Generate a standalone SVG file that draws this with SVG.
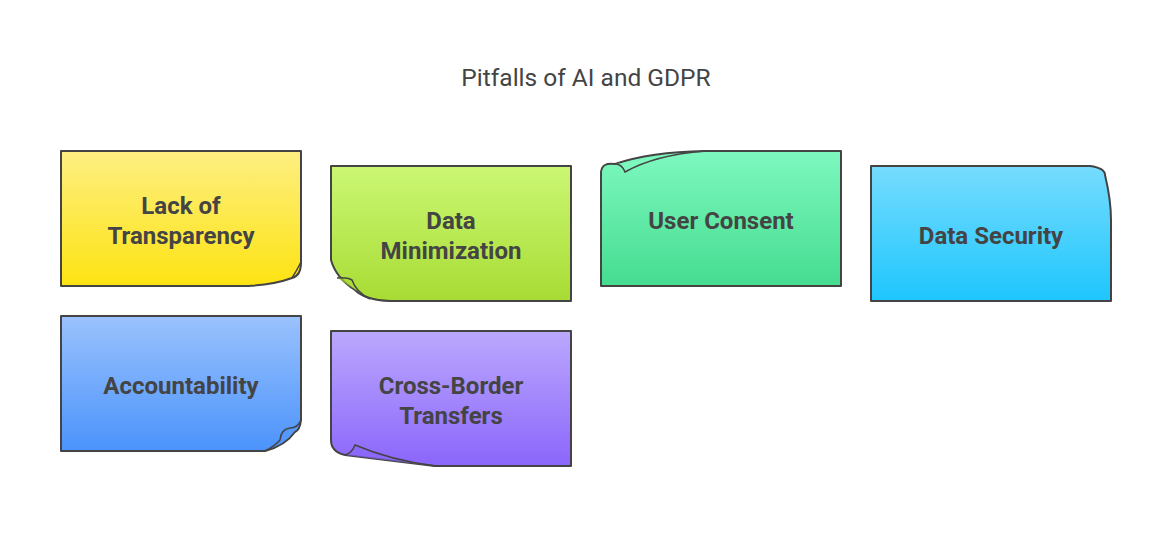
<svg xmlns="http://www.w3.org/2000/svg" width="1173" height="558" viewBox="0 0 1173 558">
<style>
.c{stroke:#444;stroke-width:2;stroke-linejoin:round}
.f{stroke:#444;stroke-width:1.5;fill-opacity:0.6}
.t{font-family:Roboto,"Liberation Sans",sans-serif;font-weight:bold;font-size:24px;fill:#444;text-anchor:middle}
.h{font-family:Roboto,"Liberation Sans",sans-serif;font-size:24.5px;fill:#444;text-anchor:middle}
</style>
<defs>
<linearGradient id="g1" x1="0" y1="0" x2="0" y2="1"><stop offset="0" stop-color="#fdef82"/><stop offset="1" stop-color="#fde312"/></linearGradient>
<linearGradient id="g2" x1="0" y1="0" x2="0" y2="1"><stop offset="0" stop-color="#cbf774"/><stop offset="1" stop-color="#a8dc34"/></linearGradient>
<linearGradient id="g3" x1="0" y1="0" x2="0" y2="1"><stop offset="0" stop-color="#7ef8bf"/><stop offset="1" stop-color="#45dc90"/></linearGradient>
<linearGradient id="g4" x1="0" y1="0" x2="0" y2="1"><stop offset="0" stop-color="#76dcfd"/><stop offset="1" stop-color="#1ec6fd"/></linearGradient>
<linearGradient id="g5" x1="0" y1="0" x2="0" y2="1"><stop offset="0" stop-color="#9ac2fd"/><stop offset="1" stop-color="#4b93fb"/></linearGradient>
<linearGradient id="g6" x1="0" y1="0" x2="0" y2="1"><stop offset="0" stop-color="#bba8fd"/><stop offset="1" stop-color="#8b66fb"/></linearGradient>
</defs>
<text class="h" x="586" y="86">Pitfalls of AI and GDPR</text>
<g id="connectors"/>
<g id="n1">
<path class="c" fill="url(#g1)" d="M61,151 H301 V262 Q301,276 292,278 Q270,286 240,286 H61 Z"/>
<path class="f" fill="#fde312" d="M292,278 Q297,270 301,262"/>
<text class="t" x="181" y="214">Lack of</text><text class="t" x="181" y="244">Transparency</text>
</g>
<g id="n2">
<path class="c" fill="url(#g2)" d="M331,166 H571 V301 H390 Q365,300 355,290 Q336,278 331,260 Z"/>
<path class="f" fill="#a8dc34" d="M337,278 Q347,277 352,280 Q356,292 370,299"/>
<text class="t" x="451" y="229">Data</text><text class="t" x="451" y="259">Minimization</text>
</g>
<g id="n3">
<path class="c" fill="url(#g3)" d="M601,286 V172 Q602,162 615,164 Q650,152 705,151 H841 V286 Z"/>
<path class="f" fill="#7ef8bf" d="M615,164 Q622,164 625,172 Q655,155 705,151"/>
<text class="t" x="721" y="229">User Consent</text>
</g>
<g id="n4">
<path class="c" fill="url(#g4)" d="M871,166 H1090 Q1105,168 1105,175 Q1111,200 1111,220 V301 H871 Z"/>
<text class="t" x="991" y="244">Data Security</text>
</g>
<g id="n5">
<path class="c" fill="url(#g5)" d="M61,316 H301 V420 Q300,430 295,432 Q285,446 265,451 H61 Z"/>
<path class="f" fill="#4b93fb" d="M301,420 Q298,428 290,428 Q281,429 280,440 Q275,446 265,451"/>
<text class="t" x="181" y="394">Accountability</text>
</g>
<g id="n6">
<path class="c" fill="url(#g6)" d="M331,331 H571 V466 H435 Q385,460 345,455 Q331,452 331,440 Z"/>
<path class="f" fill="#8b66fb" d="M345,455 Q352,453 355,445 Q390,460 435,466"/>
<text class="t" x="451" y="394">Cross-Border</text><text class="t" x="451" y="424">Transfers</text>
</g>
</svg>
